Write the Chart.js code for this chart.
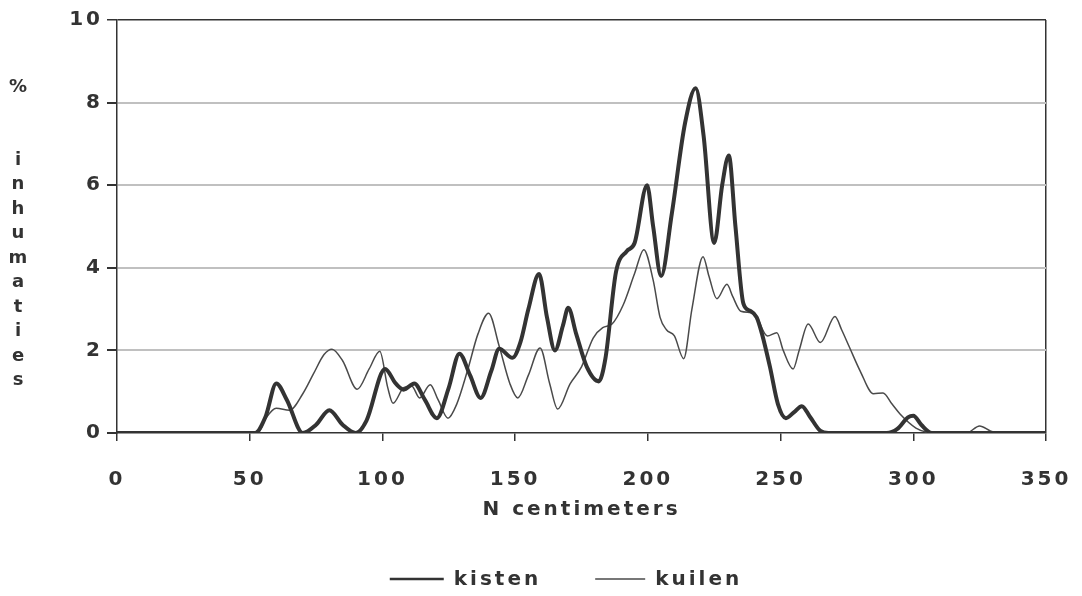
<!DOCTYPE html>
<html>
<head>
<meta charset="utf-8">
<script src="https://cdn.jsdelivr.net/npm/chart.js@4.4.1/dist/chart.umd.min.js"></script>
<style>
  body { margin: 0; background: #fff; }
  #wrap { width: 1082px; height: 596px; }
</style>
</head>
<body>
<div id="wrap"><canvas id="chart" width="1082" height="596"></canvas></div>
<script>
// Values (x in cm, y in %)
const kistenX = [0, 52, 56, 60, 64, 70, 75, 80, 85, 90, 94, 101, 105, 108, 112, 116, 120.5, 125, 129, 133, 137, 141, 144, 149, 152, 155, 159, 162, 165, 168, 170, 173, 177, 181.5, 184, 188, 192, 195, 199.7, 202, 205, 209, 214, 218, 221, 225, 228, 230.5, 233, 236, 238.5, 241, 243, 246, 249, 252, 255, 258, 261, 265, 268, 290, 294, 298, 300, 303, 307, 350];
const kistenY = [0, 0, 0.4, 1.2, 0.8, 0, 0.2, 0.55, 0.2, 0, 0.3, 1.55, 1.2, 1.05, 1.2, 0.8, 0.36, 1.1, 1.92, 1.4, 0.85, 1.5, 2.04, 1.82, 2.2, 3.0, 3.85, 2.8, 2.0, 2.6, 3.03, 2.4, 1.6, 1.25, 1.8, 3.9, 4.4, 4.6, 6.0, 5.0, 3.8, 5.3, 7.5, 8.35, 7.2, 4.6, 6.0, 6.72, 5.0, 3.13, 2.96, 2.8, 2.4, 1.6, 0.7, 0.36, 0.5, 0.65, 0.4, 0.05, 0, 0, 0.1, 0.38, 0.42, 0.2, 0, 0];

const kuilenX = [0, 53, 56, 60, 65, 70, 74, 78, 81, 85, 90.5, 95, 99, 102, 104, 108, 111, 114, 118, 121, 124.7, 128, 132, 136, 140, 144, 148, 151, 155, 159.4, 163, 166, 170.7, 175, 179.4, 183, 186.5, 190.7, 195, 198.5, 202, 204.6, 207, 210, 213.5, 216.6, 220.8, 223, 226, 229.8, 232, 235, 240, 245, 248.6, 251, 254.7, 257, 260.4, 265, 270.5, 273, 276, 280, 285, 288.6, 292, 295, 301, 305, 307, 320, 325, 329, 331.5, 350];
const kuilenY = [0, 0, 0.35, 0.6, 0.55, 0.95, 1.43, 1.9, 2.03, 1.75, 1.06, 1.55, 1.98, 1.1, 0.72, 1.1, 1.14, 0.85, 1.17, 0.8, 0.36, 0.7, 1.5, 2.4, 2.9, 2.1, 1.2, 0.85, 1.4, 2.06, 1.2, 0.58, 1.19, 1.6, 2.3, 2.55, 2.64, 3.1, 3.86, 4.44, 3.7, 2.8, 2.5, 2.35, 1.8, 3.0, 4.27, 3.8, 3.25, 3.6, 3.3, 2.95, 2.9, 2.35, 2.43, 2.0, 1.55, 2.0, 2.64, 2.19, 2.82, 2.5, 2.07, 1.5, 0.95, 0.97, 0.7, 0.46, 0.12, 0.02, 0, 0, 0.17, 0.05, 0, 0];

const seriesNames = ['kisten', 'kuilen'];
const xTicks = [0, 50, 100, 150, 200, 250, 300, 350];
const yTicks = [0, 2, 4, 6, 8, 10];
const xTitle = 'N centimeters';
const yTitle = '%inhumaties';

const ink = '#333333';
const font = { family: '"DejaVu Sans", sans-serif', weight: 'bold', size: 20 };

function toPoints(xs, ys) {
    return xs.map((x, i) => ({ x: x, y: ys[i] }));
}

// wide, spaced-out lettering like the original print
const spacing = {
    id: 'spacing',
    beforeUpdate(chart) { chart.ctx.letterSpacing = '3px'; },
    beforeDraw(chart) { chart.ctx.letterSpacing = '3px'; }
};

// y title written one letter under the other
const stackedTitle = {
    id: 'stackedTitle',
    afterDraw(chart) {
        const ctx = chart.ctx;
        ctx.save();
        ctx.letterSpacing = '0px';
        ctx.fillStyle = ink;
        ctx.font = 'bold 18px "DejaVu Sans", sans-serif';
        ctx.textAlign = 'center';
        ctx.textBaseline = 'middle';
        let y = 87;
        yTitle.split('').forEach((ch, i) => {
            ctx.fillText(ch, 18, y);
            y += (i === 0) ? 73 : 24.5;
        });
        ctx.restore();
    }
};

// legend below the axis title: line sample + name
const lineLegend = {
    id: 'lineLegend',
    afterDraw(chart) {
        const ctx = chart.ctx;
        const widths = [2.5, 1.3];
        const lens = [54, 50];
        const gap = 54;
        ctx.save();
        ctx.letterSpacing = '3px';
        ctx.font = 'bold 20px "DejaVu Sans", sans-serif';
        const items = chart.data.datasets.map((ds, i) => ({
            ds: ds, w: lens[i] + 10 + ctx.measureText(ds.label).width
        }));
        const total = items.reduce((s, it) => s + it.w, 0) + gap;
        let x = 566 - total / 2;
        const y = 579;
        items.forEach((it, i) => {
            ctx.strokeStyle = it.ds.borderColor;
            ctx.lineWidth = widths[i];
            ctx.beginPath();
            ctx.moveTo(x, y);
            ctx.lineTo(x + lens[i], y);
            ctx.stroke();
            ctx.fillStyle = ink;
            ctx.textAlign = 'left';
            ctx.textBaseline = 'middle';
            ctx.fillText(it.ds.label, x + lens[i] + 10, y + 1);
            x += it.w + gap;
        });
        ctx.restore();
    }
};

const ctx = document.getElementById('chart').getContext('2d');
const chart = new Chart(ctx, {
    type: 'line',
    data: {
        datasets: [{
            label: seriesNames[0],
            data: toPoints(kistenX, kistenY),
            borderColor: '#333333',
            borderWidth: 4,
            pointRadius: 0,
            cubicInterpolationMode: 'monotone'
        }, {
            label: seriesNames[1],
            data: toPoints(kuilenX, kuilenY),
            borderColor: '#4a4a4a',
            borderWidth: 1.5,
            pointRadius: 0,
            cubicInterpolationMode: 'monotone'
        }]
    },
    options: {
        responsive: false,
        animation: false,
        layout: { padding: { top: 20, right: 36, left: 0, bottom: 74 } },
        plugins: {
            legend: { display: false },
            tooltip: { enabled: false }
        },
        scales: {
            x: {
                type: 'linear',
                min: 0,
                max: 350,
                afterBuildTicks: (scale) => { scale.ticks = xTicks.map(v => ({ value: v })); },
                afterFit: (scale) => { scale.paddingLeft = 0; scale.paddingRight = 0; },
                ticks: { color: ink, font: font, padding: 27 },
                grid: {
                    color: (c) => c.tick && c.tick.value === 350 ? ink : 'rgba(0,0,0,0)',
                    lineWidth: 1.5,
                    tickColor: ink,
                    tickLength: 8
                },
                border: { color: ink, width: 1.5 },
                title: { display: true, text: xTitle, color: ink, font: font, padding: { top: -21, bottom: 0 } }
            },
            y: {
                min: 0,
                max: 10,
                afterBuildTicks: (scale) => { scale.ticks = yTicks.map(v => ({ value: v })); },
                afterFit: (scale) => { scale.width = 117; },
                ticks: { color: ink, font: font, padding: 4 },
                grid: {
                    color: (c) => {
                        if (!c.tick) return 'rgba(0,0,0,0)';
                        if (c.tick.value === 10) return ink;
                        if (c.tick.value === 0) return 'rgba(0,0,0,0)';
                        return '#c0c0c0';
                    },
                    lineWidth: (c) => c.tick && c.tick.value === 10 ? 1.5 : 2,
                    tickColor: ink,
                    tickLength: 10
                },
                border: { color: ink, width: 1.5 }
            }
        }
    },
    plugins: [spacing, stackedTitle, lineLegend]
});
</script>
</body>
</html>
